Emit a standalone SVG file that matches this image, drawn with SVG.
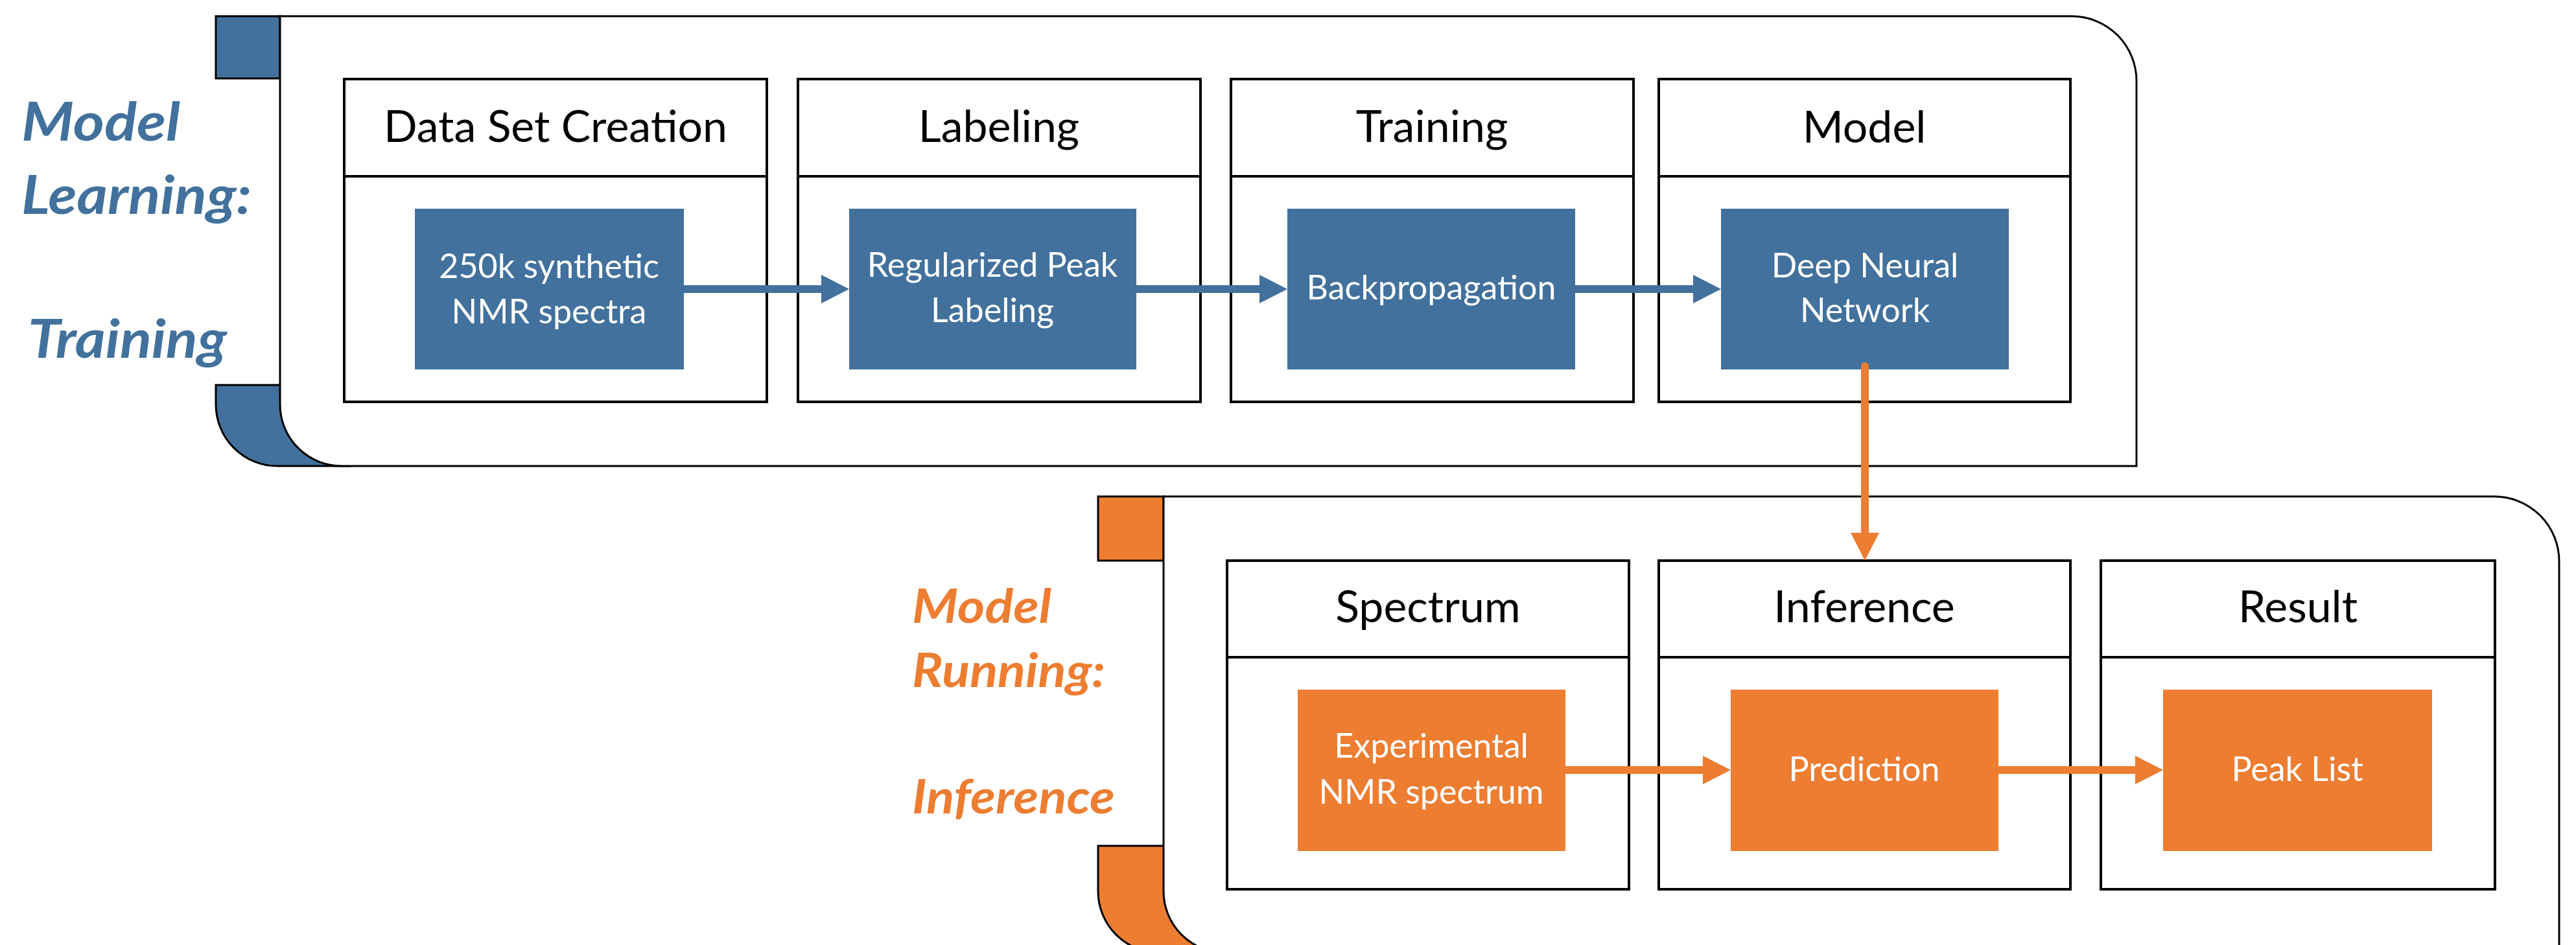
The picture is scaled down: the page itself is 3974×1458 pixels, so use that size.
<svg xmlns="http://www.w3.org/2000/svg" width="3974" height="1458" viewBox="0 0 3974 1458">
<style>
.frame{fill:#ffffff;stroke:#000000;stroke-width:3}
.tabB{fill:#41719C;stroke:#000000;stroke-width:3}
.tabO{fill:#ED7D31;stroke:#000000;stroke-width:3}
.hbox{fill:#ffffff;stroke:#000000;stroke-width:4}
.hline{stroke:#000000;stroke-width:4}
.inB{fill:#41719C}
.inO{fill:#ED7D31}
.htext{font-family:Lato,'Liberation Sans',sans-serif;font-size:68px;fill:#000000;text-anchor:middle}
.itext{font-family:Lato,'Liberation Sans',sans-serif;font-size:52px;fill:#ffffff;text-anchor:middle}
.labB{font-family:Lato,'Liberation Sans',sans-serif;font-size:82px;font-weight:bold;font-style:italic;fill:#41719C}
.labO{font-family:Lato,'Liberation Sans',sans-serif;font-size:73px;font-weight:bold;font-style:italic;fill:#ED7D31}
.conB{fill:none;stroke:#41719C;stroke-width:12}
.conO{fill:none;stroke:#ED7D31;stroke-width:12}
</style>
<defs>
<marker id="arrB" viewBox="0 0 43 44" refX="0" refY="22" markerWidth="43" markerHeight="44" markerUnits="userSpaceOnUse" orient="auto">
<path d="M0,0 L43,22 L0,44 Z" fill="#41719C"/>
</marker>
<marker id="arrO" viewBox="0 0 43 44" refX="0" refY="22" markerWidth="43" markerHeight="44" markerUnits="userSpaceOnUse" orient="auto">
<path d="M0,0 L43,22 L0,44 Z" fill="#ED7D31"/>
</marker>
</defs>
<rect width="3974" height="1458" fill="#ffffff"/>

<g id="training-panel">
<rect class="tabB" x="333" y="25" width="99" height="96"/>
<path class="tabB" d="M333,594 H540 V719 H428 A95,95 0 0 1 333,624 Z"/>
<path class="frame" d="M432,25 H3196 A100,100 0 0 1 3296,125 V719 H527 A95,95 0 0 1 432,624 Z"/>
<text class="labB" x="33" y="217" textLength="245" lengthAdjust="spacingAndGlyphs">Model</text>
<text class="labB" x="33" y="330" textLength="355" lengthAdjust="spacingAndGlyphs">Learning:</text>
<text class="labB" x="43" y="552" textLength="307" lengthAdjust="spacingAndGlyphs">Training</text>
</g>

<g id="inference-panel">
<rect class="tabO" x="1694" y="766" width="101" height="99"/>
<path class="tabO" d="M1694,1305 H1900 V1470 H1789 A95,95 0 0 1 1694,1375 Z"/>
<path class="frame" d="M1795,766 H3848 A100,100 0 0 1 3948,866 V1470 H1890 A95,95 0 0 1 1795,1375 Z"/>
<text class="labO" x="1407" y="961" textLength="215" lengthAdjust="spacingAndGlyphs">Model</text>
<text class="labO" x="1407" y="1060" textLength="298" lengthAdjust="spacingAndGlyphs">Running:</text>
<text class="labO" x="1407" y="1255" textLength="313" lengthAdjust="spacingAndGlyphs">Inference</text>
</g>

<g id="node-dataset">
<rect class="hbox" x="531" y="122" width="652" height="498"/>
<line class="hline" x1="531" y1="272" x2="1183" y2="272"/>
<text class="htext" x="857" y="219">Data Set Creation</text>
<rect class="inB" x="640" y="322" width="415" height="248"/>
<text class="itext" x="847" y="429">250k synthetic</text>
<text class="itext" x="847" y="499">NMR spectra</text>
</g>

<g id="node-labeling">
<rect class="hbox" x="1231" y="122" width="621" height="498"/>
<line class="hline" x1="1231" y1="272" x2="1852" y2="272"/>
<text class="htext" x="1541" y="219">Labeling</text>
<rect class="inB" x="1310" y="322" width="443" height="248"/>
<text class="itext" x="1531" y="427">Regularized Peak</text>
<text class="itext" x="1531" y="497">Labeling</text>
</g>

<g id="node-training">
<rect class="hbox" x="1899" y="122" width="621" height="498"/>
<line class="hline" x1="1899" y1="272" x2="2520" y2="272"/>
<text class="htext" x="2209" y="219">Training</text>
<rect class="inB" x="1986" y="322" width="444" height="248"/>
<text class="itext" x="2208" y="462">Backpropagation</text>
</g>

<g id="node-model">
<rect class="hbox" x="2559" y="122" width="635" height="498"/>
<line class="hline" x1="2559" y1="272" x2="3194" y2="272"/>
<text class="htext" x="2876" y="220">Model</text>
<rect class="inB" x="2655" y="322" width="444" height="248"/>
<text class="itext" x="2877" y="428">Deep Neural</text>
<text class="itext" x="2877" y="497">Network</text>
</g>

<g id="node-spectrum">
<rect class="hbox" x="1893" y="865" width="620" height="507"/>
<line class="hline" x1="1893" y1="1014" x2="2513" y2="1014"/>
<text class="htext" x="2203" y="960">Spectrum</text>
<rect class="inO" x="2002" y="1064" width="413" height="249"/>
<text class="itext" x="2208" y="1169">Experimental</text>
<text class="itext" x="2208" y="1240">NMR spectrum</text>
</g>

<g id="node-inference">
<rect class="hbox" x="2559" y="865" width="635" height="507"/>
<line class="hline" x1="2559" y1="1014" x2="3194" y2="1014"/>
<text class="htext" x="2876" y="960">Inference</text>
<rect class="inO" x="2670" y="1064" width="413" height="249"/>
<text class="itext" x="2876" y="1205">Prediction</text>
</g>

<g id="node-result">
<rect class="hbox" x="3241" y="865" width="608" height="507"/>
<line class="hline" x1="3241" y1="1014" x2="3849" y2="1014"/>
<text class="htext" x="3545" y="960">Result</text>
<rect class="inO" x="3337" y="1064" width="415" height="249"/>
<text class="itext" x="3544" y="1205">Peak List</text>
</g>

<g id="connectors">
<path class="conB" d="M1055,446 H1267" marker-end="url(#arrB)"/>
<path class="conB" d="M1753,446 H1943" marker-end="url(#arrB)"/>
<path class="conB" d="M2430,446 H2612" marker-end="url(#arrB)"/>
<path class="conO" d="M2877,565 V822" stroke-linecap="round" marker-end="url(#arrO)"/>
<path class="conO" d="M2415,1188 H2627" marker-end="url(#arrO)"/>
<path class="conO" d="M3083,1188 H3294" marker-end="url(#arrO)"/>
</g>
</svg>
